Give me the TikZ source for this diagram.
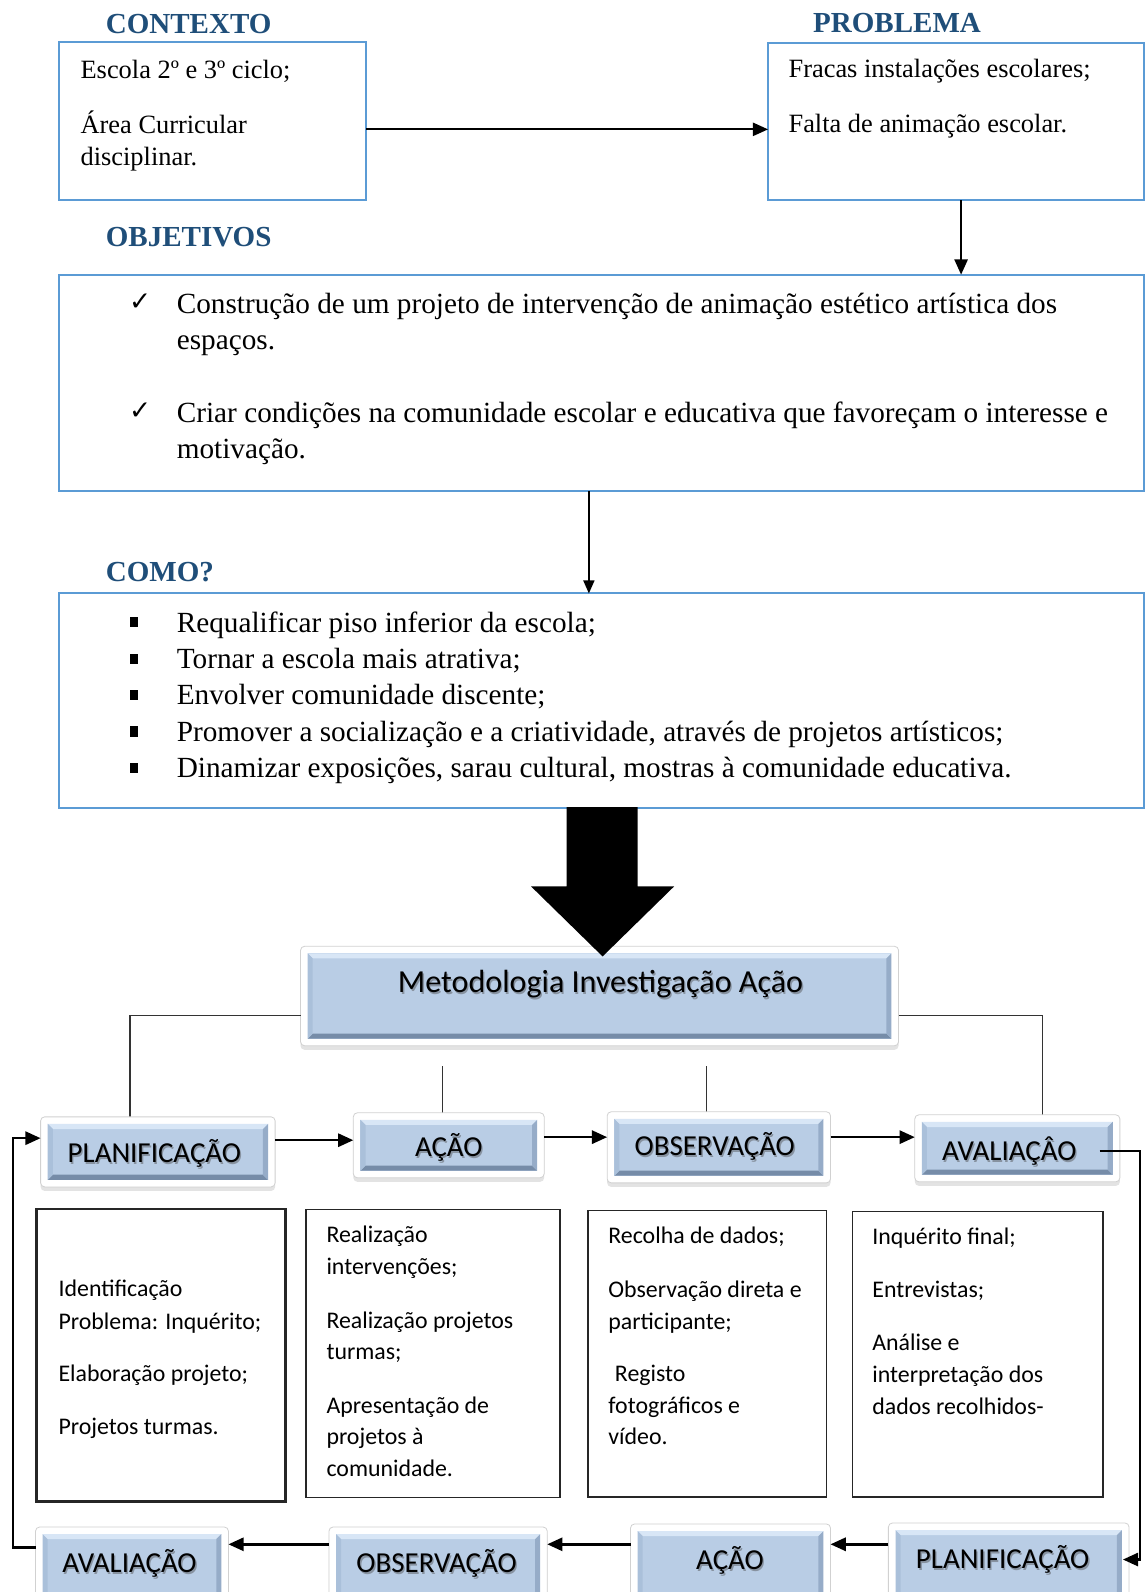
\documentclass[tikz,border=0pt]{standalone}
\usepackage{fontspec}
\setmainfont{Liberation Serif}
\newfontfamily\calib{Carlito}
\newfontfamily\djv{DejaVu Sans}
\usetikzlibrary{arrows.meta,shadows,calc}
\definecolor{ttlblue}{RGB}{31,78,121}
\definecolor{bxblue}{RGB}{91,155,213}
\definecolor{stepfill}{RGB}{185,205,229}
\definecolor{steptop}{RGB}{216,230,246}
\definecolor{stepbot}{RGB}{118,140,168}
\definecolor{stepsidel}{RGB}{170,192,218}
\definecolor{stepsider}{RGB}{150,172,200}
\tikzset{
 ttl/.style={font=\fontsize{28.6}{30}\selectfont\bfseries, text=ttlblue, anchor=base west, inner sep=0},
 body/.style={font=\fontsize{26}{30}\selectfont, anchor=base west, inner sep=0},
 bodyl/.style={font=\fontsize{28.8}{32}\selectfont, anchor=base west, inner sep=0},
 boxtxt/.style={font=\calib\fontsize{23.5}{28}\selectfont, anchor=base west, inner sep=0},
 bluebox/.style={draw=bxblue, line width=2pt, inner sep=0, outer sep=0, anchor=north west},
 blackbox/.style={draw=black!85, line width=1.3pt, inner sep=0, outer sep=0, anchor=north west},
 arr/.style={line width=2pt, -{Triangle[length=15pt,width=13pt]}},
 arrsm/.style={line width=1.6pt, -{Triangle[length=13pt,width=11pt]}},
 steparr/.style={line width=2.4pt, -{Triangle[length=15pt,width=13pt]}},
 thinconn/.style={line width=1.1pt, draw=black!80},
 stepframe/.style={draw=black!18, line width=0.8pt, fill=white, rounded corners=4pt, inner sep=0, outer sep=0,
   drop shadow={shadow xshift=0pt, shadow yshift=-4pt, opacity=0.22}},
 chk/.style={anchor=base west, inner sep=0, font=\djv\fontsize{26}{26}\selectfont},
}
% #1 name, #2-#5 frame, #6 text, #7 text x centre, #8 text baseline y, #9 font size
\newcommand{\mkstep}[9]{%
 \node[stepframe, minimum width={#4-#2}, minimum height={#5-#3}] (#1) at ({(#2+#4)/2},{(#3+#5)/2}) {};
 \fill[stepfill] ({#2+7},{#3+7}) rectangle ({#4-7},{#5-7});
 \fill[steptop] ({#2+7},{#3+7}) -- ({#4-7},{#3+7}) -- ({#4-12},{#3+12}) -- ({#2+12},{#3+12}) -- cycle;
 \fill[stepbot] ({#2+7},{#5-7}) -- ({#4-7},{#5-7}) -- ({#4-12},{#5-12}) -- ({#2+12},{#5-12}) -- cycle;
 \fill[stepsidel] ({#2+7},{#3+7}) -- ({#2+12},{#3+12}) -- ({#2+12},{#5-12}) -- ({#2+7},{#5-7}) -- cycle;
 \fill[stepsider] ({#4-7},{#3+7}) -- ({#4-12},{#3+12}) -- ({#4-12},{#5-12}) -- ({#4-7},{#5-7}) -- cycle;
 \node[anchor=base, inner sep=0, text=black!70, opacity=0.45, font=\calib\fontsize{#9}{#9}\selectfont] (#1s) at ({#7+1.3},{#8+1.8}) {#6};
 \node[anchor=base, inner sep=0, font=\calib\fontsize{#9}{#9}\selectfont] (#1t) at (#7,#8) {#6};
}
\begin{document}
\begin{tikzpicture}[x=1pt,y=-1pt]
\useasboundingbox (0,0) rectangle (1128,1568);
\clip (0,0) rectangle (1128,1568);
\fill[white] (0,0) rectangle (1128,1568);

% titles
\node[ttl] (tctx) at (104,32.8) {CONTEXTO};
\node[ttl] (tprob) at (800.7,32.2) {PROBLEMA};
\node[ttl] (tobj) at (104,243) {OBJETIVOS};
\node[ttl] (tcomo) at (104,573) {COMO?};

% top boxes
\node[bluebox, minimum width=302.3, minimum height=156] (ctx) at (58.5,41) {};
\node[bluebox, minimum width=370.5, minimum height=155] (prob) at (756.5,42) {};
\node[bluebox, minimum width=1069, minimum height=213] (obj) at (58,270.5) {};
\node[bluebox, minimum width=1069, minimum height=211] (como) at (58,584.5) {};

\node[body] (c1) at (79.2,77) {Escola 2º e 3º ciclo;};
\node[body] (c2) at (79.2,131.5) {Área Curricular};
\node[body] (c3) at (79.2,162.6) {disciplinar.};
\node[body] (p1) at (776.5,76.2) {Fracas instalações escolares;};
\node[body] (p2) at (776.5,130.5) {Falta de animação escolar.};

\node[chk] (ck1) at (127,305.5) {✓};
\node[chk] (ck2) at (127,413) {✓};
\node[bodyl] (o1) at (174,309) {Construção de um projeto de intervenção de animação estético artística dos};
\node[bodyl] (o2) at (174,344.5) {espaços.};
\node[bodyl] (o3) at (174,416) {Criar condições na comunidade escolar e educativa que favoreçam o interesse e};
\node[bodyl] (o4) at (174,451.5) {motivação.};

\foreach \t/\yy [count=\i] in {{Requalificar piso inferior da escola;}/622.5,{Tornar a escola mais atrativa;}/658.5,{Envolver comunidade discente;}/694,{Promover a socialização e a criatividade, através de projetos artísticos;}/730,{Dinamizar exposições, sarau cultural, mostras à comunidade educativa.}/766}{
  \fill (128,\yy-14.5) rectangle (136,\yy-4.5);
  \node[bodyl] (m\i) at (174,\yy) {\t};
}

% arrows top
\draw[arr] (ctx.east |- 0,127.4) -- (prob.west |- 0,127.4);
\draw[arr] (prob.south -| 946.6,0) -- (obj.north -| 946.6,0);
\draw[arrsm] (obj.south -| 580,0) -- (como.north -| 580,0);

% methodology
\mkstep{metod}{296}{932}{885}{1030}{Metodologia Investigação Ação}{591.5}{978}{31.6}

% thin connectors
\coordinate (ml) at (436,1050);
\coordinate (mr) at (696,1050);
\draw[thinconn] (metod.west |- 0,1000) -| (128,1100);
\draw[thinconn] (metod.east |- 0,1000) -| (1027,1100);
\draw[thinconn] (ml) -- (436,1097);
\draw[thinconn] (mr) -- (696,1096);

% step boxes top row
\mkstep{planA}{40}{1100}{271}{1169}{PLANIFICAÇÃO}{152}{1145}{28.5}
\mkstep{acaoA}{348}{1096}{536}{1160}{AÇÃO}{442}{1139}{28.5}
\mkstep{obsA}{598}{1095}{818}{1165}{OBSERVAÇÃO}{704}{1138}{28.5}
\mkstep{avalA}{901}{1098}{1103}{1164}{AVALIAÇÂO}{994}{1143}{28.5}

% step boxes bottom row
\mkstep{avalB}{35}{1504}{225}{1590}{AVALIAÇÃO}{127.5}{1549}{28.5}
\mkstep{obsB}{324}{1504}{539}{1590}{OBSERVAÇÃO}{430}{1549}{28.5}
\mkstep{acaoB}{621}{1501}{818}{1590}{AÇÃO}{719}{1546}{28.5}
\mkstep{planB}{875}{1500}{1112}{1590}{PLANIFICAÇÃO}{987.5}{1545}{28.5}

% big arrow
\fill[black] (558,795) -- (628,795) -- (628,873) -- (664,873) -- (593.5,942) -- (523,873) -- (558,873) -- cycle;

% step arrows
\draw[steparr] (planA.east |- 0,1123) -- (acaoA.west |- 0,1123);
\draw[steparr] (acaoA.east |- 0,1120) -- (obsA.west |- 0,1120);
\draw[steparr] (obsA.east |- 0,1120) -- (avalA.west |- 0,1120);
\draw[steparr] (planB.west |- 0,1521) -- (acaoB.east |- 0,1521);
\draw[steparr] (acaoB.west |- 0,1521) -- (obsB.east |- 0,1521);
\draw[steparr] (obsB.west |- 0,1521) -- (avalB.east |- 0,1521);

% loops
\coordinate (lp) at (13,1524);
\draw[steparr] (avalB.west |- lp) -- (lp) |- (planA.west |- 0,1121);
\coordinate (rs) at (1083,1133.6);
\coordinate (rend) at (1106,1536);
\draw[steparr] (rs) -| (1123,1536) -- (rend);

% bottom text boxes
\node[blackbox, line width=2.4pt, minimum width=245, minimum height=288] (b1) at (36,1191) {};
\node[blackbox, minimum width=250, minimum height=284] (b2) at (301.5,1191) {};
\node[blackbox, minimum width=235, minimum height=282] (b3) at (579,1192.5) {};
\node[blackbox, minimum width=247, minimum height=281] (b4) at (839.5,1193.5) {};

\node[boxtxt] (t11) at (57.5,1277) {Identificação};
\node[boxtxt] (t12) at (57.5,1309) {Problema: Inquérito;};
\node[boxtxt] (t13) at (57.5,1361) {Elaboração projeto;};
\node[boxtxt] (t14) at (57.5,1413) {Projetos turmas.};

\node[boxtxt] (t21) at (321.4,1224) {Realização};
\node[boxtxt] (t22) at (321.4,1255) {intervenções;};
\node[boxtxt] (t23) at (321.4,1308) {Realização projetos};
\node[boxtxt] (t24) at (321.4,1339) {turmas;};
\node[boxtxt] (t25) at (321.4,1392) {Apresentação de};
\node[boxtxt] (t26) at (321.4,1423) {projetos à};
\node[boxtxt] (t27) at (321.4,1454) {comunidade.};

\node[boxtxt] (t31) at (599,1225) {Recolha de dados;};
\node[boxtxt] (t32) at (599,1278) {Observação direta e};
\node[boxtxt] (t33) at (599,1309) {participante;};
\node[boxtxt] (t34) at (605.5,1361) {Registo};
\node[boxtxt] (t35) at (599,1392) {fotográficos e};
\node[boxtxt] (t36) at (599,1423) {vídeo.};

\node[boxtxt] (t41) at (859,1226) {Inquérito final;};
\node[boxtxt] (t42) at (859,1278) {Entrevistas;};
\node[boxtxt] (t43) at (859,1330) {Análise e};
\node[boxtxt] (t44) at (859,1362) {interpretação dos};
\node[boxtxt] (t45) at (859,1393) {dados recolhidos-};
\end{tikzpicture}
\end{document}
